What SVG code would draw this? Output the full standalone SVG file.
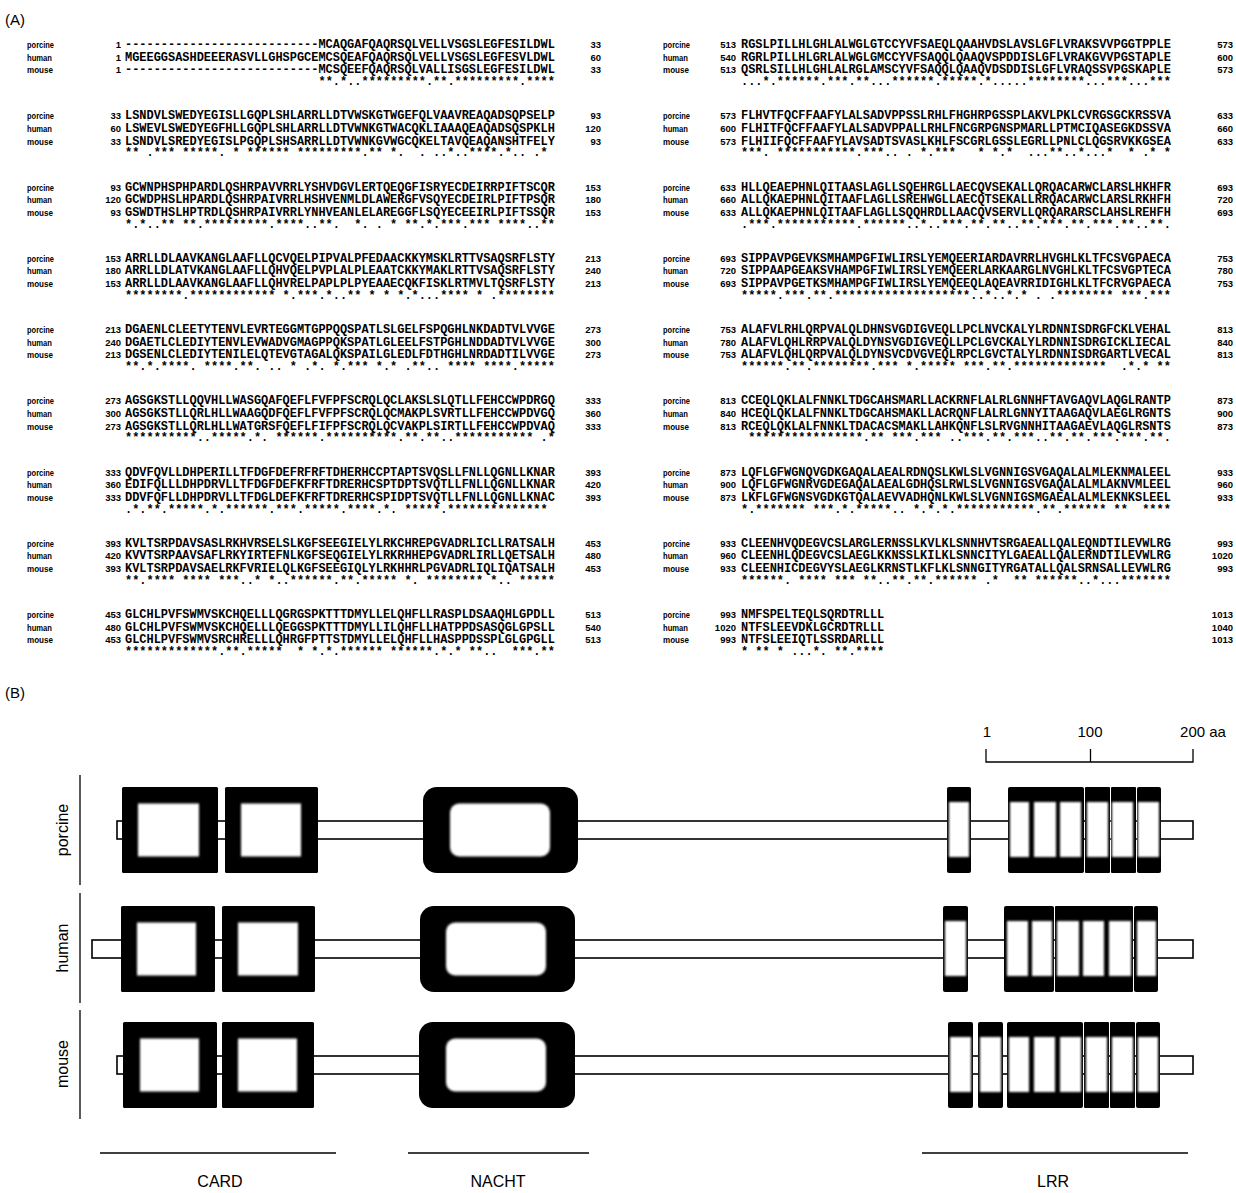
<svg xmlns="http://www.w3.org/2000/svg" width="1236" height="1193" viewBox="0 0 1236 1193">
<style>
.ttl{font:15px "Liberation Sans",Arial,sans-serif;fill:#000}
.lab{font:bold 9.5px "Liberation Sans",Arial,sans-serif;fill:#000}
.num{font:bold 9.5px "Liberation Sans",Arial,sans-serif;fill:#000;text-anchor:end}
.seq{font:bold 11.94px "Liberation Mono","DejaVu Sans Mono",monospace;fill:#000;white-space:pre}
.con{font:bold 11.94px "Liberation Mono","DejaVu Sans Mono",monospace;fill:#000;white-space:pre}
.sp{font:16px "Liberation Sans",Arial,sans-serif;fill:#000;text-anchor:middle}
.sc{font:15px "Liberation Sans",Arial,sans-serif;fill:#000;text-anchor:middle}
.bb{fill:#fff;stroke:#000;stroke-width:1.6}
.dk{fill:#000}
.in{fill:#fff;filter:url(#soft)}
.ln{stroke:#000;stroke-width:1.3;fill:none}
</style>
<defs>
<filter id="soft" x="-30%" y="-30%" width="160%" height="160%"><feGaussianBlur stdDeviation="1.2"/></filter>
</defs>
<rect width="1236" height="1193" fill="#fff"/>
<text class="ttl" x="5" y="25">(A)</text>
<g id="alignment-left">
<g id="L0" transform="translate(0,48)">
<text class="lab" x="27" y="0" textLength="27" lengthAdjust="spacingAndGlyphs">porcine</text><text class="num" x="121" y="0">1</text><text class="seq" x="125" y="0">---------------------------MCAQGAFQAQRSQLVELLVSGSLEGFESILDWL</text><text class="num" x="601" y="0">33</text>
<text class="lab" x="27" y="12.7" textLength="25" lengthAdjust="spacingAndGlyphs">human</text><text class="num" x="121" y="12.7">1</text><text class="seq" x="125" y="12.7">MGEEGGSASHDEEERASVLLGHSPGCEMCSQEAFQAQRSQLVELLVSGSLEGFESVLDWL</text><text class="num" x="601" y="12.7">60</text>
<text class="lab" x="27" y="25.4" textLength="26" lengthAdjust="spacingAndGlyphs">mouse</text><text class="num" x="121" y="25.4">1</text><text class="seq" x="125" y="25.4">---------------------------MCSQEEFQAQRSQLVALLISGSLEGFESILDWL</text><text class="num" x="601" y="25.4">33</text>
<text class="con" x="318.5" y="37" xml:space="preserve">**.*..*********.**.*********.****</text>
</g>
<g id="L1" transform="translate(0,119.25)">
<text class="lab" x="27" y="0" textLength="27" lengthAdjust="spacingAndGlyphs">porcine</text><text class="num" x="121" y="0">33</text><text class="seq" x="125" y="0">LSNDVLSWEDYEGISLLGQPLSHLARRLLDTVWSKGTWGEFQLVAAVREAQADSQPSELP</text><text class="num" x="601" y="0">93</text>
<text class="lab" x="27" y="12.7" textLength="25" lengthAdjust="spacingAndGlyphs">human</text><text class="num" x="121" y="12.7">60</text><text class="seq" x="125" y="12.7">LSWEVLSWEDYEGFHLLGQPLSHLARRLLDTVWNKGTWACQKLIAAAQEAQADSQSPKLH</text><text class="num" x="601" y="12.7">120</text>
<text class="lab" x="27" y="25.4" textLength="26" lengthAdjust="spacingAndGlyphs">mouse</text><text class="num" x="121" y="25.4">33</text><text class="seq" x="125" y="25.4">LSNDVLSREDYEGISLPGQPLSHSARRLLDTVWNKGVWGCQKELTAVQEAQANSHTFELY</text><text class="num" x="601" y="25.4">93</text>
<text class="con" x="125" y="37" xml:space="preserve">** .*** *****. * ****** *********.** *.  . ..*..****.*.. .*</text>
</g>
<g id="L2" transform="translate(0,190.5)">
<text class="lab" x="27" y="0" textLength="27" lengthAdjust="spacingAndGlyphs">porcine</text><text class="num" x="121" y="0">93</text><text class="seq" x="125" y="0">GCWNPHSPHPARDLQSHRPAVVRRLYSHVDGVLERTQEQGFISRYECDEIRRPIFTSCQR</text><text class="num" x="601" y="0">153</text>
<text class="lab" x="27" y="12.7" textLength="25" lengthAdjust="spacingAndGlyphs">human</text><text class="num" x="121" y="12.7">120</text><text class="seq" x="125" y="12.7">GCWDPHSLHPARDLQSHRPAIVRRLHSHVENMLDLAWERGFVSQYECDEIRLPIFTPSQR</text><text class="num" x="601" y="12.7">180</text>
<text class="lab" x="27" y="25.4" textLength="26" lengthAdjust="spacingAndGlyphs">mouse</text><text class="num" x="121" y="25.4">93</text><text class="seq" x="125" y="25.4">GSWDTHSLHPTRDLQSHRPAIVRRLYNHVEANLELAREGGFLSQYECEEIRLPIFTSSQR</text><text class="num" x="601" y="25.4">153</text>
<text class="con" x="125" y="37" xml:space="preserve">*.*..** **.*********.****..**.  *. . * **.*.***.*** ****..**</text>
</g>
<g id="L3" transform="translate(0,261.75)">
<text class="lab" x="27" y="0" textLength="27" lengthAdjust="spacingAndGlyphs">porcine</text><text class="num" x="121" y="0">153</text><text class="seq" x="125" y="0">ARRLLDLAAVKANGLAAFLLQCVQELPIPVALPFEDAACKKYMSKLRTTVSAQSRFLSTY</text><text class="num" x="601" y="0">213</text>
<text class="lab" x="27" y="12.7" textLength="25" lengthAdjust="spacingAndGlyphs">human</text><text class="num" x="121" y="12.7">180</text><text class="seq" x="125" y="12.7">ARRLLDLATVKANGLAAFLLQHVQELPVPLALPLEAATCKKYMAKLRTTVSAQSRFLSTY</text><text class="num" x="601" y="12.7">240</text>
<text class="lab" x="27" y="25.4" textLength="26" lengthAdjust="spacingAndGlyphs">mouse</text><text class="num" x="121" y="25.4">153</text><text class="seq" x="125" y="25.4">ARRLLDLAAVKANGLAAFLLQHVRELPAPLPLPYEAAECQKFISKLRTMVLTQSRFLSTY</text><text class="num" x="601" y="25.4">213</text>
<text class="con" x="125" y="37" xml:space="preserve">********.************ *.***.*..** * * *.*...**** * .********</text>
</g>
<g id="L4" transform="translate(0,333)">
<text class="lab" x="27" y="0" textLength="27" lengthAdjust="spacingAndGlyphs">porcine</text><text class="num" x="121" y="0">213</text><text class="seq" x="125" y="0">DGAENLCLEETYTENVLEVRTEGGMTGPPQQSPATLSLGELFSPQGHLNKDADTVLVVGE</text><text class="num" x="601" y="0">273</text>
<text class="lab" x="27" y="12.7" textLength="25" lengthAdjust="spacingAndGlyphs">human</text><text class="num" x="121" y="12.7">240</text><text class="seq" x="125" y="12.7">DGAETLCLEDIYTENVLEVWADVGMAGPPQKSPATLGLEELFSTPGHLNDDADTVLVVGE</text><text class="num" x="601" y="12.7">300</text>
<text class="lab" x="27" y="25.4" textLength="26" lengthAdjust="spacingAndGlyphs">mouse</text><text class="num" x="121" y="25.4">213</text><text class="seq" x="125" y="25.4">DGSENLCLEDIYTENILELQTEVGTAGALQKSPAILGLEDLFDTHGHLNRDADTILVVGE</text><text class="num" x="601" y="25.4">273</text>
<text class="con" x="125" y="37" xml:space="preserve">**.*.****. ****.**. .. * .*. *.*** *.* .**.. **** ****.*****</text>
</g>
<g id="L5" transform="translate(0,404.25)">
<text class="lab" x="27" y="0" textLength="27" lengthAdjust="spacingAndGlyphs">porcine</text><text class="num" x="121" y="0">273</text><text class="seq" x="125" y="0">AGSGKSTLLQQVHLLWASGQAFQEFLFVFPFSCRQLQCLAKSLSLQTLLFEHCCWPDRGQ</text><text class="num" x="601" y="0">333</text>
<text class="lab" x="27" y="12.7" textLength="25" lengthAdjust="spacingAndGlyphs">human</text><text class="num" x="121" y="12.7">300</text><text class="seq" x="125" y="12.7">AGSGKSTLLQRLHLLWAAGQDFQEFLFVFPFSCRQLQCMAKPLSVRTLLFEHCCWPDVGQ</text><text class="num" x="601" y="12.7">360</text>
<text class="lab" x="27" y="25.4" textLength="26" lengthAdjust="spacingAndGlyphs">mouse</text><text class="num" x="121" y="25.4">273</text><text class="seq" x="125" y="25.4">AGSGKSTLLQRLHLLWATGRSFQEFLFIFPFSCRQLQCVAKPLSIRTLLFEHCCWPDVAQ</text><text class="num" x="601" y="25.4">333</text>
<text class="con" x="125" y="37" xml:space="preserve">**********..*****.*. ******.**********.**.**..*********** .*</text>
</g>
<g id="L6" transform="translate(0,475.5)">
<text class="lab" x="27" y="0" textLength="27" lengthAdjust="spacingAndGlyphs">porcine</text><text class="num" x="121" y="0">333</text><text class="seq" x="125" y="0">QDVFQVLLDHPERILLTFDGFDEFRFRFTDHERHCCPTAPTSVQSLLFNLLQGNLLKNAR</text><text class="num" x="601" y="0">393</text>
<text class="lab" x="27" y="12.7" textLength="25" lengthAdjust="spacingAndGlyphs">human</text><text class="num" x="121" y="12.7">360</text><text class="seq" x="125" y="12.7">EDIFQLLLDHPDRVLLTFDGFDEFKFRFTDRERHCSPTDPTSVQTLLFNLLQGNLLKNAR</text><text class="num" x="601" y="12.7">420</text>
<text class="lab" x="27" y="25.4" textLength="26" lengthAdjust="spacingAndGlyphs">mouse</text><text class="num" x="121" y="25.4">333</text><text class="seq" x="125" y="25.4">DDVFQFLLDHPDRVLLTFDGLDEFKFRFTDRERHCSPIDPTSVQTLLFNLLQGNLLKNAC</text><text class="num" x="601" y="25.4">393</text>
<text class="con" x="125" y="37" xml:space="preserve">.*.**.*****.*.******.***.*****.****.*. *****.**************</text>
</g>
<g id="L7" transform="translate(0,546.75)">
<text class="lab" x="27" y="0" textLength="27" lengthAdjust="spacingAndGlyphs">porcine</text><text class="num" x="121" y="0">393</text><text class="seq" x="125" y="0">KVLTSRPDAVSASLRKHVRSELSLKGFSEEGIELYLRKCHREPGVADRLICLLRATSALH</text><text class="num" x="601" y="0">453</text>
<text class="lab" x="27" y="12.7" textLength="25" lengthAdjust="spacingAndGlyphs">human</text><text class="num" x="121" y="12.7">420</text><text class="seq" x="125" y="12.7">KVVTSRPAAVSAFLRKYIRTEFNLKGFSEQGIELYLRKRHHEPGVADRLIRLLQETSALH</text><text class="num" x="601" y="12.7">480</text>
<text class="lab" x="27" y="25.4" textLength="26" lengthAdjust="spacingAndGlyphs">mouse</text><text class="num" x="121" y="25.4">393</text><text class="seq" x="125" y="25.4">KVLTSRPDAVSAELRKFVRIELQLKGFSEEGIQLYLRKHHRLPGVADRLIQLIQATSALH</text><text class="num" x="601" y="25.4">453</text>
<text class="con" x="125" y="37" xml:space="preserve">**.**** **** ***..* *..******.**.***** *. ******** *.. *****</text>
</g>
<g id="L8" transform="translate(0,618)">
<text class="lab" x="27" y="0" textLength="27" lengthAdjust="spacingAndGlyphs">porcine</text><text class="num" x="121" y="0">453</text><text class="seq" x="125" y="0">GLCHLPVFSWMVSKCHQELLLQGRGSPKTTTDMYLLELQHFLLRASPLDSAAQHLGPDLL</text><text class="num" x="601" y="0">513</text>
<text class="lab" x="27" y="12.7" textLength="25" lengthAdjust="spacingAndGlyphs">human</text><text class="num" x="121" y="12.7">480</text><text class="seq" x="125" y="12.7">GLCHLPVFSWMVSKCHQELLLQEGGSPKTTTDMYLLILQHFLLHATPPDSASQGLGPSLL</text><text class="num" x="601" y="12.7">540</text>
<text class="lab" x="27" y="25.4" textLength="26" lengthAdjust="spacingAndGlyphs">mouse</text><text class="num" x="121" y="25.4">453</text><text class="seq" x="125" y="25.4">GLCHLPVFSWMVSRCHRELLLQHRGFPTTSTDMYLLELQHFLLHASPPDSSPLGLGPGLL</text><text class="num" x="601" y="25.4">513</text>
<text class="con" x="125" y="37" xml:space="preserve">*************.**.*****  * *.*.****** ******.*.* **..  ***.**</text>
</g>
</g>
<g id="alignment-right">
<g id="R0" transform="translate(0,48)">
<text class="lab" x="663" y="0" textLength="27" lengthAdjust="spacingAndGlyphs">porcine</text><text class="num" x="736" y="0">513</text><text class="seq" x="741" y="0">RGSLPILLHLGHLALWGLGTCCYVFSAEQLQAAHVDSLAVSLGFLVRAKSVVPGGTPPLE</text><text class="num" x="1233" y="0">573</text>
<text class="lab" x="663" y="12.7" textLength="25" lengthAdjust="spacingAndGlyphs">human</text><text class="num" x="736" y="12.7">540</text><text class="seq" x="741" y="12.7">RGRLPILLHLGRLALWGLGMCCYVFSAQQLQAAQVSPDDISLGFLVRAKGVVPGSTAPLE</text><text class="num" x="1233" y="12.7">600</text>
<text class="lab" x="663" y="25.4" textLength="26" lengthAdjust="spacingAndGlyphs">mouse</text><text class="num" x="736" y="25.4">513</text><text class="seq" x="741" y="25.4">QSRLSILLHLGHLALRGLAMSCYVFSAQQLQAAQVDSDDISLGFLVRAQSSVPGSKAPLE</text><text class="num" x="1233" y="25.4">573</text>
<text class="con" x="741" y="37" xml:space="preserve">...*.******.***.**...******.*****.*.....********...***...***</text>
</g>
<g id="R1" transform="translate(0,119.25)">
<text class="lab" x="663" y="0" textLength="27" lengthAdjust="spacingAndGlyphs">porcine</text><text class="num" x="736" y="0">573</text><text class="seq" x="741" y="0">FLHVTFQCFFAAFYLALSADVPPSSLRHLFHGHRPGSSPLAKVLPKLCVRGSGCKRSSVA</text><text class="num" x="1233" y="0">633</text>
<text class="lab" x="663" y="12.7" textLength="25" lengthAdjust="spacingAndGlyphs">human</text><text class="num" x="736" y="12.7">600</text><text class="seq" x="741" y="12.7">FLHITFQCFFAAFYLALSADVPPALLRHLFNCGRPGNSPMARLLPTMCIQASEGKDSSVA</text><text class="num" x="1233" y="12.7">660</text>
<text class="lab" x="663" y="25.4" textLength="26" lengthAdjust="spacingAndGlyphs">mouse</text><text class="num" x="736" y="25.4">573</text><text class="seq" x="741" y="25.4">FLHIIFQCFFAAFYLAVSADTSVASLKHLFSCGRLGSSLEGRLLPNLCLQGSRVKKGSEA</text><text class="num" x="1233" y="25.4">633</text>
<text class="con" x="741" y="37" xml:space="preserve">***. ***********.***.. . *.***   * *.*  ...**..*...*  * .* *</text>
</g>
<g id="R2" transform="translate(0,190.5)">
<text class="lab" x="663" y="0" textLength="27" lengthAdjust="spacingAndGlyphs">porcine</text><text class="num" x="736" y="0">633</text><text class="seq" x="741" y="0">HLLQEAEPHNLQITAASLAGLLSQEHRGLLAECQVSEKALLQRQACARWCLARSLHKHFR</text><text class="num" x="1233" y="0">693</text>
<text class="lab" x="663" y="12.7" textLength="25" lengthAdjust="spacingAndGlyphs">human</text><text class="num" x="736" y="12.7">660</text><text class="seq" x="741" y="12.7">ALLQKAEPHNLQITAAFLAGLLSREHWGLLAECQTSEKALLRRQACARWCLARSLRKHFH</text><text class="num" x="1233" y="12.7">720</text>
<text class="lab" x="663" y="25.4" textLength="26" lengthAdjust="spacingAndGlyphs">mouse</text><text class="num" x="736" y="25.4">633</text><text class="seq" x="741" y="25.4">ALLQKAEPHNLQITAAFLAGLLSQQHRDLLAACQVSERVLLQRQARARSCLAHSLREHFH</text><text class="num" x="1233" y="25.4">693</text>
<text class="con" x="741" y="37" xml:space="preserve">.***.***********.******..*..***.**.**..**.***.**.***.**..**.</text>
</g>
<g id="R3" transform="translate(0,261.75)">
<text class="lab" x="663" y="0" textLength="27" lengthAdjust="spacingAndGlyphs">porcine</text><text class="num" x="736" y="0">693</text><text class="seq" x="741" y="0">SIPPAVPGEVKSMHAMPGFIWLIRSLYEMQEERIARDAVRRLHVGHLKLTFCSVGPAECA</text><text class="num" x="1233" y="0">753</text>
<text class="lab" x="663" y="12.7" textLength="25" lengthAdjust="spacingAndGlyphs">human</text><text class="num" x="736" y="12.7">720</text><text class="seq" x="741" y="12.7">SIPPAAPGEAKSVHAMPGFIWLIRSLYEMQEERLARKAARGLNVGHLKLTFCSVGPTECA</text><text class="num" x="1233" y="12.7">780</text>
<text class="lab" x="663" y="25.4" textLength="26" lengthAdjust="spacingAndGlyphs">mouse</text><text class="num" x="736" y="25.4">693</text><text class="seq" x="741" y="25.4">SIPPAVPGETKSMHAMPGFIWLIRSLYEMQEEQLAQEAVRRIDIGHLKLTFCRVGPAECA</text><text class="num" x="1233" y="25.4">753</text>
<text class="con" x="741" y="37" xml:space="preserve">*****.***.**.*******************..*..*.* . .******** ***.***</text>
</g>
<g id="R4" transform="translate(0,333)">
<text class="lab" x="663" y="0" textLength="27" lengthAdjust="spacingAndGlyphs">porcine</text><text class="num" x="736" y="0">753</text><text class="seq" x="741" y="0">ALAFVLRHLQRPVALQLDHNSVGDIGVEQLLPCLNVCKALYLRDNNISDRGFCKLVEHAL</text><text class="num" x="1233" y="0">813</text>
<text class="lab" x="663" y="12.7" textLength="25" lengthAdjust="spacingAndGlyphs">human</text><text class="num" x="736" y="12.7">780</text><text class="seq" x="741" y="12.7">ALAFVLQHLRRPVALQLDYNSVGDIGVEQLLPCLGVCKALYLRDNNISDRGICKLIECAL</text><text class="num" x="1233" y="12.7">840</text>
<text class="lab" x="663" y="25.4" textLength="26" lengthAdjust="spacingAndGlyphs">mouse</text><text class="num" x="736" y="25.4">753</text><text class="seq" x="741" y="25.4">ALAFVLQHLQRPVALQLDYNSVCDVGVEQLRPCLGVCTALYLRDNNISDRGARTLVECAL</text><text class="num" x="1233" y="25.4">813</text>
<text class="con" x="741" y="37" xml:space="preserve">******.**.********.*** *.***** ***.**.*************  .*.* **</text>
</g>
<g id="R5" transform="translate(0,404.25)">
<text class="lab" x="663" y="0" textLength="27" lengthAdjust="spacingAndGlyphs">porcine</text><text class="num" x="736" y="0">813</text><text class="seq" x="741" y="0">CCEQLQKLALFNNKLTDGCAHSMARLLACKRNFLALRLGNNHFTAVGAQVLAQGLRANTP</text><text class="num" x="1233" y="0">873</text>
<text class="lab" x="663" y="12.7" textLength="25" lengthAdjust="spacingAndGlyphs">human</text><text class="num" x="736" y="12.7">840</text><text class="seq" x="741" y="12.7">HCEQLQKLALFNNKLTDGCAHSMAKLLACRQNFLALRLGNNYITAAGAQVLAEGLRGNTS</text><text class="num" x="1233" y="12.7">900</text>
<text class="lab" x="663" y="25.4" textLength="26" lengthAdjust="spacingAndGlyphs">mouse</text><text class="num" x="736" y="25.4">813</text><text class="seq" x="741" y="25.4">RCEQLQKLALFNNKLTDACACSMAKLLAHKQNFLSLRVGNNHITAAGAEVLAQGLRSNTS</text><text class="num" x="1233" y="25.4">873</text>
<text class="con" x="748.2" y="37" xml:space="preserve">****************.** ***.*** ..***.**.***..**.**.***.***.**.</text>
</g>
<g id="R6" transform="translate(0,475.5)">
<text class="lab" x="663" y="0" textLength="27" lengthAdjust="spacingAndGlyphs">porcine</text><text class="num" x="736" y="0">873</text><text class="seq" x="741" y="0">LQFLGFWGNQVGDKGAQALAEALRDNQSLKWLSLVGNNIGSVGAQALALMLEKNMALEEL</text><text class="num" x="1233" y="0">933</text>
<text class="lab" x="663" y="12.7" textLength="25" lengthAdjust="spacingAndGlyphs">human</text><text class="num" x="736" y="12.7">900</text><text class="seq" x="741" y="12.7">LQFLGFWGNRVGDEGAQALAEALGDHQSLRWLSLVGNNIGSVGAQALALMLAKNVMLEEL</text><text class="num" x="1233" y="12.7">960</text>
<text class="lab" x="663" y="25.4" textLength="26" lengthAdjust="spacingAndGlyphs">mouse</text><text class="num" x="736" y="25.4">873</text><text class="seq" x="741" y="25.4">LKFLGFWGNSVGDKGTQALAEVVADHQNLKWLSLVGNNIGSMGAEALALMLEKNKSLEEL</text><text class="num" x="1233" y="25.4">933</text>
<text class="con" x="741" y="37" xml:space="preserve">*.******* ***.*.*****.. *.*.*.***********.**.****** **  ****</text>
</g>
<g id="R7" transform="translate(0,546.75)">
<text class="lab" x="663" y="0" textLength="27" lengthAdjust="spacingAndGlyphs">porcine</text><text class="num" x="736" y="0">933</text><text class="seq" x="741" y="0">CLEENHVQDEGVCSLARGLERNSSLKVLKLSNNHVTSRGAEALLQALEQNDTILEVWLRG</text><text class="num" x="1233" y="0">993</text>
<text class="lab" x="663" y="12.7" textLength="25" lengthAdjust="spacingAndGlyphs">human</text><text class="num" x="736" y="12.7">960</text><text class="seq" x="741" y="12.7">CLEENHLQDEGVCSLAEGLKKNSSLKILKLSNNCITYLGAEALLQALERNDTILEVWLRG</text><text class="num" x="1233" y="12.7">1020</text>
<text class="lab" x="663" y="25.4" textLength="26" lengthAdjust="spacingAndGlyphs">mouse</text><text class="num" x="736" y="25.4">933</text><text class="seq" x="741" y="25.4">CLEENHICDEGVYSLAEGLKRNSTLKFLKLSNNGITYRGATALLQALSRNSALLEVWLRG</text><text class="num" x="1233" y="25.4">993</text>
<text class="con" x="741" y="37" xml:space="preserve">******. **** *** **..**.**.****** .*  ** ******..*...*******</text>
</g>
<g id="R8" transform="translate(0,618)">
<text class="lab" x="663" y="0" textLength="27" lengthAdjust="spacingAndGlyphs">porcine</text><text class="num" x="736" y="0">993</text><text class="seq" x="741" y="0">NMFSPELTEQLSQRDTRLLL</text><text class="num" x="1233" y="0">1013</text>
<text class="lab" x="663" y="12.7" textLength="25" lengthAdjust="spacingAndGlyphs">human</text><text class="num" x="736" y="12.7">1020</text><text class="seq" x="741" y="12.7">NTFSLEEVDKLGCRDTRLLL</text><text class="num" x="1233" y="12.7">1040</text>
<text class="lab" x="663" y="25.4" textLength="26" lengthAdjust="spacingAndGlyphs">mouse</text><text class="num" x="736" y="25.4">993</text><text class="seq" x="741" y="25.4">NTFSLEEIQTLSSRDARLLL</text><text class="num" x="1233" y="25.4">1013</text>
<text class="con" x="741" y="37" xml:space="preserve">* ** * ...*. **.****</text>
</g>
</g>

<text class="ttl" x="5" y="698">(B)</text>
<g id="scale-bar">
<path class="ln" d="M986 749V762H1193V749M1090.5 762V749" stroke-width="1.5"/>
<text class="sc" x="987" y="737">1</text>
<text class="sc" x="1090" y="737">100</text>
<text class="sc" x="1203" y="737">200 aa</text>
</g>
<g id="species-labels">
<text class="sp" transform="translate(68,830) rotate(-90)">porcine</text>
<line class="ln" x1="80" y1="775" x2="80" y2="885"/>
<text class="sp" transform="translate(68,948) rotate(-90)">human</text>
<line class="ln" x1="80" y1="893" x2="80" y2="1003"/>
<text class="sp" transform="translate(68,1064) rotate(-90)">mouse</text>
<line class="ln" x1="80" y1="1010" x2="80" y2="1119"/>
</g>
<g id="connectors">
<rect class="bb" x="117" y="821" width="1076" height="18"/>
<rect class="bb" x="92" y="940" width="1101" height="18"/>
<rect class="bb" x="117" y="1056" width="1076" height="18"/>
</g>
<g id="porcine-domains" transform="translate(0,830)">
<rect class="dk" x="122" y="-43" width="96" height="86" rx="1.5"/><rect class="in" x="138" y="-26.5" width="61" height="53"/>
<rect class="dk" x="225" y="-43" width="93" height="86" rx="1.5"/><rect class="in" x="241" y="-26.5" width="60" height="53"/>
<rect class="dk" x="423" y="-43" width="155" height="86" rx="14"/><rect class="in" x="450" y="-26.5" width="100" height="53" rx="9"/>
<rect class="dk" x="947" y="-43" width="24" height="86" rx="2"/>
<rect class="dk" x="1008" y="-43" width="76" height="86" rx="2"/>
<rect class="dk" x="1085" y="-43" width="25" height="86" rx="1"/>
<rect class="dk" x="1111" y="-43" width="25" height="86" rx="1"/>
<rect class="dk" x="1137" y="-43" width="24" height="86" rx="2"/>
<rect class="in" x="949" y="-28" width="20" height="55"/><rect class="in" x="1010" y="-28" width="19" height="55"/><rect class="in" x="1034" y="-28" width="22" height="55"/><rect class="in" x="1060" y="-28" width="21" height="55"/><rect class="in" x="1087" y="-28" width="21" height="55"/><rect class="in" x="1112" y="-28" width="21" height="55"/><rect class="in" x="1138" y="-28" width="21" height="55"/>
</g>
<g id="human-domains" transform="translate(0,949)">
<rect class="dk" x="121" y="-43" width="94" height="86" rx="1.5"/><rect class="in" x="137" y="-26.5" width="59" height="53"/>
<rect class="dk" x="222" y="-43" width="93" height="86" rx="1.5"/><rect class="in" x="238" y="-26.5" width="60" height="53"/>
<rect class="dk" x="420" y="-43" width="155" height="86" rx="14"/><rect class="in" x="446" y="-26.5" width="100" height="53" rx="9"/>
<rect class="dk" x="943" y="-43" width="25" height="86" rx="2"/>
<rect class="dk" x="1004" y="-43" width="50" height="86" rx="2"/>
<rect class="dk" x="1055" y="-43" width="78" height="86" rx="1"/>
<rect class="dk" x="1134" y="-43" width="24" height="86" rx="2"/>
<rect class="in" x="945" y="-28" width="21" height="55"/><rect class="in" x="1007" y="-28" width="21" height="55"/><rect class="in" x="1032" y="-28" width="20" height="55"/><rect class="in" x="1057" y="-28" width="22" height="55"/><rect class="in" x="1083" y="-28" width="21" height="55"/><rect class="in" x="1109" y="-28" width="22" height="55"/><rect class="in" x="1137" y="-28" width="19" height="55"/>
</g>
<g id="mouse-domains" transform="translate(0,1065)">
<rect class="dk" x="123" y="-43" width="94" height="86" rx="1.5"/><rect class="in" x="140" y="-26.5" width="59" height="53"/>
<rect class="dk" x="222" y="-43" width="92" height="86" rx="1.5"/><rect class="in" x="238" y="-26.5" width="59" height="53"/>
<rect class="dk" x="419" y="-43" width="156" height="86" rx="14"/><rect class="in" x="446" y="-26.5" width="100" height="53" rx="9"/>
<rect class="dk" x="948" y="-43" width="25" height="86" rx="2"/>
<rect class="dk" x="978" y="-43" width="25" height="86" rx="2"/>
<rect class="dk" x="1007" y="-43" width="76" height="86" rx="2"/>
<rect class="dk" x="1084" y="-43" width="25" height="86" rx="1"/>
<rect class="dk" x="1110" y="-43" width="25" height="86" rx="1"/>
<rect class="dk" x="1136" y="-43" width="24" height="86" rx="2"/>
<rect class="in" x="950" y="-28" width="21" height="55"/><rect class="in" x="980" y="-28" width="21" height="55"/><rect class="in" x="1009" y="-28" width="20" height="55"/><rect class="in" x="1034" y="-28" width="21" height="55"/><rect class="in" x="1060" y="-28" width="21" height="55"/><rect class="in" x="1086" y="-28" width="21" height="55"/><rect class="in" x="1112" y="-28" width="21" height="55"/><rect class="in" x="1138" y="-28" width="20" height="55"/>
</g>
<g id="domain-labels">
<line class="ln" x1="100" y1="1153" x2="336" y2="1153"/>
<line class="ln" x1="408" y1="1153" x2="589" y2="1153"/>
<line class="ln" x1="922" y1="1153" x2="1188" y2="1153"/>
<text class="sp" x="220" y="1187">CARD</text>
<text class="sp" x="498" y="1187">NACHT</text>
<text class="sp" x="1053" y="1187">LRR</text>
</g>
</svg>
